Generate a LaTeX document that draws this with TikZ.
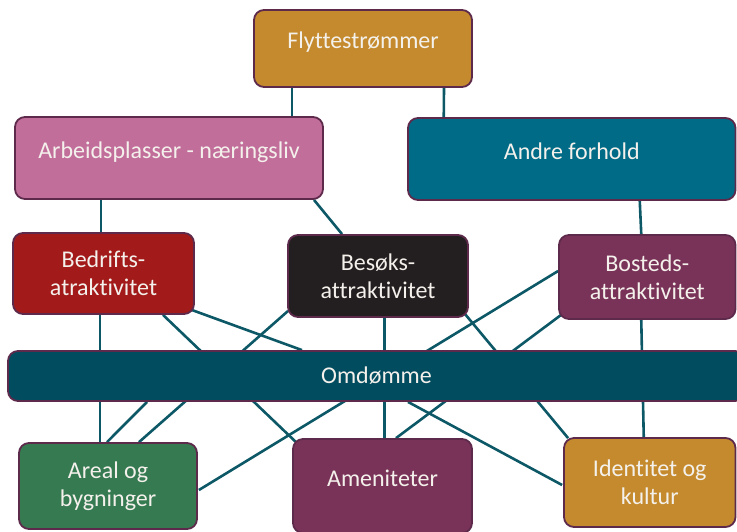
\documentclass[tikz,border=0pt]{standalone}
\usepackage{fontspec}
\setmainfont{Carlito}[Ligatures=NoCommon]
\usetikzlibrary{backgrounds}
\definecolor{goldc}{HTML}{C48A2D}
\definecolor{pinkc}{HTML}{C26E9B}
\definecolor{tealc}{HTML}{006B87}
\definecolor{redc}{HTML}{A21B1A}
\definecolor{darkc}{HTML}{231F20}
\definecolor{plumc}{HTML}{7A3358}
\definecolor{omdc}{HTML}{024C5F}
\definecolor{greenc}{HTML}{367A51}
\definecolor{edgec}{HTML}{5E2A4C}
\definecolor{linkc}{HTML}{0C5866}
\definecolor{txtc}{HTML}{F4F1EC}

\begin{document}
\begin{tikzpicture}[x=0.5pt, y=-0.5pt,
    box/.style={draw=edgec, line width=0.9pt, rounded corners=5pt, text=txtc,
      font=\fontsize{12}{14}\selectfont, align=center, inner sep=0pt},
    toptext/.style={text height=1.8ex, text depth=1.8ex},
    link/.style={draw=linkc, line width=1.3pt}]
  \clip (0,0) rectangle (737,531);
  \node[box, toptext, fill=goldc, minimum width=109pt, minimum height=38.5pt] (flytte) at (363,48.5) {Flyttestrømmer};
  \node[box, toptext, fill=pinkc, minimum width=154pt, minimum height=41pt] (arbeids) at (169,158) {Arbeidsplasser - næringsliv};
  \node[box, toptext, fill=tealc, minimum width=163.75pt, minimum height=41pt] (andre) at (571.75,159) {Andre forhold};
  \node[box, fill=redc, minimum width=90.5pt, minimum height=40.5pt] (bedrifts) at (103.5,273.5) {Bedrifts-\\atraktivitet};
  \node[box, fill=darkc, minimum width=90pt, minimum height=41pt] (besoks) at (378,276) {Besøks-\\attraktivitet};
  \node[box, fill=plumc, minimum width=88.25pt, minimum height=42pt] (bosteds) at (647.25,277) {Bosteds-\\attraktivitet};
  \node[box, fill=omdc, minimum width=368.5pt, minimum height=25pt] (omdomme) at (376.5,376) {Omdømme};
  \node[box, fill=greenc, minimum width=89pt, minimum height=43pt] (areal) at (108,486) {Areal og\\bygninger};
  \node[box, toptext, fill=plumc, minimum width=89.5pt, minimum height=47pt] (amen) at (382.5,486) {Ameniteter};
  \node[box, fill=goldc, minimum width=85.75pt, minimum height=44.5pt] (ident) at (649.75,482.5) {Identitet og\\kultur};
  \begin{scope}[on background layer]
    \draw[link] ([shift={(-71,0)}]flytte.south) -- ([shift={(123,0)}]arbeids.north);
    \draw[link] ([shift={(81,0)}]flytte.south) -- ([shift={(-128,0)}]andre.north);
    \draw[link] ([shift={(-68,0)}]arbeids.south) -- ([shift={(-2.5,0)}]bedrifts.north);
    \draw[link] ([shift={(145,0)}]arbeids.south) -- ([shift={(-36,0)}]besoks.north);
    \draw[link] ([shift={(68,0)}]andre.south) -- ([shift={(-6,0)}]bosteds.north);
    \draw[link] ([shift={(-3.5,0)}]bedrifts.south) -- ([shift={(-8,0)}]areal.north);
    \draw[link] ([shift={(59.5,0)}]bedrifts.south) -- ([shift={(-86.5,4)}]amen.north);
    \draw[link] ([shift={(-6,-6)}]bedrifts.south east) -- ([shift={(-74.5,0)}]omdomme.north);
    \draw[link] ([shift={(1,-7)}]besoks.south west) -- ([shift={(31,0)}]areal.north);
    \draw[link] ([shift={(6.5,0)}]besoks.south) -- ([shift={(2,0)}]amen.north);
    \draw[link] ([shift={(-4,-4)}]besoks.south east) -- ([shift={(5,1)}]ident.north west);
    \draw[link] ([shift={(0,-6)}]bosteds.west) -- ([shift={(1,4)}]areal.east);
    \draw[link] ([shift={(3,-5)}]bosteds.south west) -- ([shift={(13.5,0)}]amen.north);
    \draw[link] ([shift={(-6,0)}]bosteds.south) -- ([shift={(-6,0)}]ident.north);
    \draw[link] ([shift={(-229.5,0)}]omdomme.south) -- ([shift={(-1,0)}]areal.north);
    \draw[link] ([shift={(31.5,0)}]omdomme.south) -- ([shift={(-1,2.5)}]ident.west);
  \end{scope}
\end{tikzpicture}
\end{document}
